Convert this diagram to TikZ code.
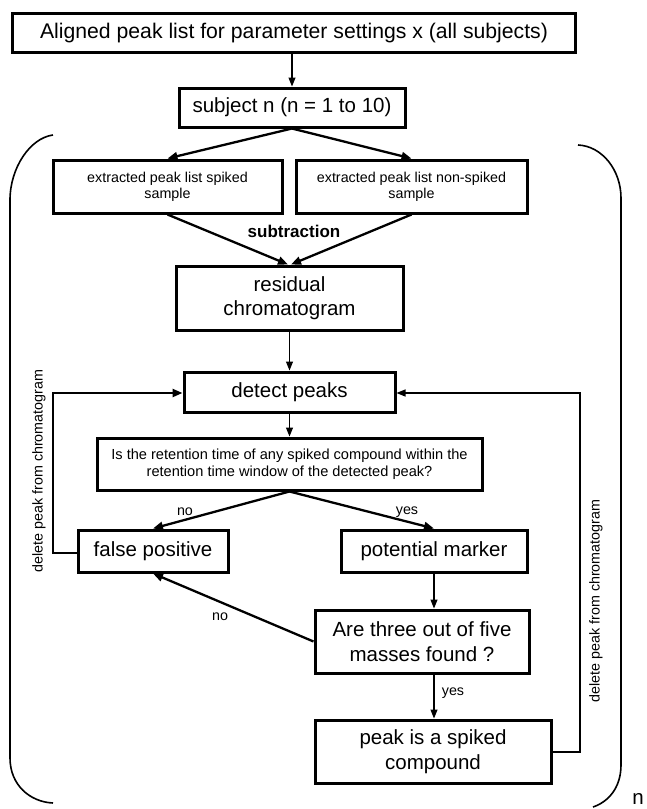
\documentclass[tikz,border=0pt]{standalone}
\usepackage{fontspec}
\setmainfont{Liberation Sans}
\usetikzlibrary{arrows.meta,calc}
\begin{document}
\begin{tikzpicture}[x=1pt,y=-1pt,
  box/.style={draw,line width=3pt,align=center,inner sep=0pt},
  big/.style={font=\fontsize{20.5}{24.5}\selectfont},
  small/.style={font=\fontsize{14.3}{16}\selectfont},
  lbl/.style={font=\fontsize{14.3}{16}\selectfont,inner sep=0pt},
  thinarrow/.style={line width=1.1pt,-{Triangle[length=9pt,width=7pt]}},
  thickarrow/.style={line width=2.3pt,-{Triangle[length=10pt,width=8pt]}},
  bracket/.style={line width=1.6pt},
]
\useasboundingbox (0,0) rectangle (646,809);

\node[box,font=\fontsize{21.2}{25}\selectfont,minimum width=563,minimum height=39] (b1) at (294,33) {Aligned peak list for parameter settings x (all subjects)};
\node[box,big,minimum width=226,minimum height=39] (b2) at (292,107.5) {subject n (n = 1 to 10)};
\node[box,small,minimum width=229,minimum height=53] (b3) at (167.5,186.5) {extracted peak list spiked\\sample};
\node[box,small,minimum width=231,minimum height=53] (b4) at (411.5,186.5) {extracted peak list non-spiked\\sample};
\node[box,big,minimum width=227,minimum height=64] (b5) at (289.5,298) {residual\\chromatogram};
\node[box,big,minimum width=211,minimum height=40] (b6) at (289.5,392) {detect peaks};
\node[box,minimum width=385,minimum height=52,font=\fontsize{14.6}{17}\selectfont] (b7) at (289.5,464) {Is the retention time of any spiked compound within the\\retention time window of the detected peak?};
\node[box,big,minimum width=150,minimum height=42] (b8) at (153,551) {false positive};
\node[box,big,minimum width=186,minimum height=42] (b9) at (434,551) {potential marker};
\node[box,big,minimum width=214,minimum height=63] (b10) at (422,641.5) {Are three out of five\\masses found ?};
\node[box,big,minimum width=236,minimum height=63] (b11) at (433,751.5) {peak is a spiked\\compound};

% labels
\node[inner sep=0pt,font=\fontsize{17}{18}\selectfont\bfseries] (sub) at (294,231) {subtraction};
\node[lbl] (no1) at (185,512) {no};
\node[lbl] (yes1) at (407,512) {yes};
\node[lbl] (no2) at (220,617) {no};
\node[lbl] (yes2) at (453,693) {yes};
\node[lbl,rotate=90] (del1) at (39,471) {delete peak from chromatogram};
\node[lbl,rotate=90] (del2) at (596,601) {delete peak from chromatogram};
\node[inner sep=0pt,big] (n) at (638,799) {n};

% connectors
\draw[thinarrow] (b2.north |- b1.south) -- (b2.north);
\draw[thickarrow] (b2.south) -- (b3.north);
\draw[thickarrow] (b2.south) -- (b4.north);
\draw[thickarrow] (b3.south) -- ($(b5.north)+(-1.5,0)$);
\draw[thickarrow] (b4.south) -- ($(b5.north)+(1.5,0)$);
\draw[thinarrow] (b5.south) -- (b6.north);
\draw[thinarrow] (b6.south) -- (b7.north);
\draw[thickarrow] (b7.south) -- (b8.north);
\draw[thickarrow] (b7.south) -- (b9.north);
\draw[thinarrow] (b9.south) -- (b9.south |- b10.north);
\draw[thinarrow] (b9.south |- b10.south) -- (b9.south |- b11.north);
\draw[thickarrow] (b10.west) -- (b8.south);
\coordinate (l1) at (53,553);
\coordinate (l2) at (53,393);
\draw[thickarrow] (b8.west |- l1) -- (l1) -- (l2) -- (b6.west |- l2);
\coordinate (r1) at (580,752);
\coordinate (r2) at (580,393);
\draw[thinarrow,line width=1.3pt] (b11.east |- r1) -- (r1) -- (r2) -- (b6.east |- r2);

% brackets
\draw[bracket] (53,135) .. controls (30,138) and (10,168) .. (10,200) -- (10,758) .. controls (10,785) and (30,802) .. (53,803);
\draw[bracket] (578,145) .. controls (602,146) and (621,170) .. (621,198) -- (621,765) .. controls (621,788) and (608,802) .. (593,807);
\end{tikzpicture}
\end{document}
